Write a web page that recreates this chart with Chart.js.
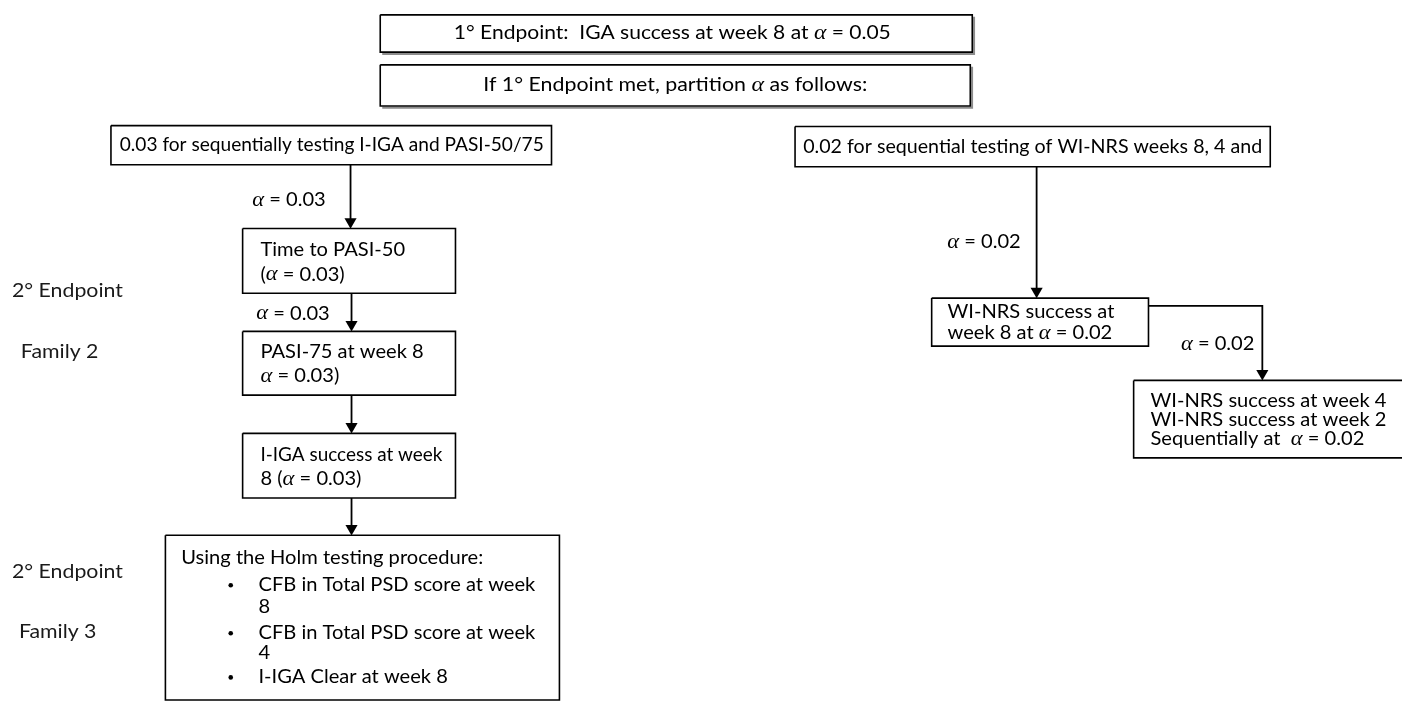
<!DOCTYPE html>
<html>
<head>
<meta charset="utf-8">
<script src="https://cdn.jsdelivr.net/npm/chart.js@4.4.1/dist/chart.umd.min.js"></script>
<style>
  html, body { margin: 0; padding: 0; background: #fff; }
  #wrap { width: 1402px; height: 704px; }
</style>
</head>
<body>
<div id="wrap"><canvas id="flow"></canvas></div>
<script>
/* ========================================================
   DATA
======================================================== */
const alphaPrimary = '0.05';
const alphaLeft    = '0.03';
const alphaRight   = '0.02';

const familyLabels = ['2° Endpoint', 'Family 2', '2° Endpoint', 'Family 3'];

const boxTexts = [
    [`1° Endpoint:  IGA success at week 8 at α = ${alphaPrimary}`],
    ['If 1° Endpoint met, partition α as follows:'],
    ['0.03 for sequentially testing I-IGA and PASI-50/75'],
    ['Time to PASI-50', `(α = ${alphaLeft})`],
    ['PASI-75 at week 8', `α = ${alphaLeft})`],
    ['I-IGA success at week', `8 (α = ${alphaLeft})`],
    ['Using the Holm testing procedure:', 'CFB in Total PSD score at week', '8',
     'CFB in Total PSD score at week', '4', 'I-IGA Clear at week 8'],
    ['0.02 for sequential testing of WI-NRS weeks 8, 4 and'],
    ['WI-NRS success at', `week 8 at α = ${alphaRight}`],
    ['WI-NRS success at week 4', 'WI-NRS success at week 2', `Sequentially at  α = ${alphaRight}`]
];

const arrowLabels = [`α = ${alphaLeft}`, `α = ${alphaLeft}`, `α = ${alphaRight}`, `α = ${alphaRight}`];

/* ========================================================
   LAYOUT (axis units, 0..1402 x 0..704)
======================================================== */
const boxRects = [
    [377, 8, 975, 46],
    [377, 59, 973, 101],
    [105, 121, 550, 161],
    [238, 226, 453, 292],
    [238, 331, 453, 396],
    [238, 435, 453, 501],
    [160, 539, 558, 707],
    [796, 122, 1276, 163],
    [934, 297, 1153, 346],
    [1138, 381, 1420, 460]
];
const boxShadow = [true, true, false, false, false, false, false, false, false, false];

// fit: target text width per line (null keeps the natural width)
const textLayout = [
    { align: 'center', x: 672, y: [27], fit: [437] },
    { align: 'center', x: 675, y: [80], fit: [384] },
    { align: 'center', x: 328, y: [141], fit: [424] },
    { align: 'left', x: 256, y: [248, 273] },
    { align: 'left', x: 256, y: [352, 377] },
    { align: 'left', x: 256, y: [457, 482], fit: [182, null] },
    { align: 'left', x: [176, 254, 254, 254, 254, 254], y: [562, 590, 612, 639, 659, 684],
      bullet: [false, true, false, true, false, true], bulletX: 226 },
    { align: 'center', x: 1036, y: [143], fit: [459] },
    { align: 'left', x: 950, y: [311, 333] },
    { align: 'left', x: 1155, y: [402, 421, 441] }
];

const familyPos = [[5, 289], [14, 352], [5, 576], [12, 637]];

const arrowPaths = [
    [[347, 161], [347, 226]],
    [[348, 292], [348, 331]],
    [[348, 396], [348, 435]],
    [[348, 501], [348, 539]],
    [[1040, 163], [1040, 297]],
    [[1153, 305], [1268, 305], [1268, 381]]
];
const arrowLabelPos = [[322, 197], [326, 313], [1024, 240], [1260, 344]];

const HEAD = 7;

/* ========================================================
   DATASETS
======================================================== */
const toPts = arr => arr.map(([x, y]) => ({ x, y }));

const datasets = [];

boxRects.forEach(([x1, y1, x2, y2]) => {
    datasets.push({
        type: 'line',
        data: toPts([[x1, y1], [x2, y1], [x2, y2], [x1, y2], [x1, y1]]),
        borderColor: '#000',
        borderWidth: 1.6,
        pointRadius: 0,
        fill: false,
        tension: 0,
        clip: false
    });
});

arrowPaths.forEach(path => {
    const pts = path.map(p => p.slice());
    pts[pts.length - 1][1] -= 4;
    datasets.push({
        type: 'line',
        data: toPts(pts),
        borderColor: '#000',
        borderWidth: 1.8,
        pointRadius: 0,
        fill: false,
        tension: 0,
        clip: false
    });
});

datasets.push({
    type: 'scatter',
    data: arrowPaths.map(path => {
        const tip = path[path.length - 1];
        return { x: tip[0], y: tip[1] - HEAD };
    }),
    pointStyle: 'triangle',
    rotation: 180,
    pointRadius: HEAD,
    backgroundColor: '#000',
    borderWidth: 0,
    clip: false
});

/* ========================================================
   TEXT
======================================================== */
const FAMILY = 'Lato, "Open Sans", sans-serif';
const SIZE = 18.5;
let hScale = 1;

function calibrate(ctx) {
    ctx.font = `${SIZE}px ${FAMILY}`;
    const w = ctx.measureText('Using the Holm testing procedure:').width;
    hScale = 302 / w;
}

function drawRich(ctx, str, px, py, align, size, fitW) {
    const parts = str.split(/(α)/).filter(s => s.length);
    const fontOf = p => p === 'α'
        ? `italic ${(size * 1.12).toFixed(2)}px "Liberation Serif", serif`
        : `${size.toFixed(2)}px ${FAMILY}`;
    const raw = parts.map(p => { ctx.font = fontOf(p); return ctx.measureText(p).width; });
    const rawTotal = raw.reduce((a, b) => a + b, 0);
    const hs = fitW ? fitW / rawTotal : hScale;
    const widths = raw.map(w => w * hs);
    const total = rawTotal * hs;
    let cx = align === 'center' ? px - total / 2 : align === 'right' ? px - total : px;
    parts.forEach((p, i) => {
        ctx.font = fontOf(p);
        ctx.save();
        ctx.translate(cx, py);
        ctx.scale(hs, 1);
        ctx.fillText(p, 0, 0);
        ctx.restore();
        cx += widths[i];
    });
}

const flowText = {
    id: 'flowText',
    beforeDatasetsDraw(chart) {
        const { ctx, scales: { x, y } } = chart;
        ctx.save();
        ctx.strokeStyle = '#8c8c8c';
        ctx.lineWidth = 2;
        boxRects.forEach(([x1, y1, x2, y2], i) => {
            if (!boxShadow[i]) return;
            const X1 = x.getPixelForValue(x1), X2 = x.getPixelForValue(x2);
            const Y1 = y.getPixelForValue(y1), Y2 = y.getPixelForValue(y2);
            ctx.beginPath();
            ctx.moveTo(X2 + 1.8, Y1 + 2);
            ctx.lineTo(X2 + 1.8, Y2 + 1.8);
            ctx.lineTo(X1 + 2, Y2 + 1.8);
            ctx.stroke();
        });
        ctx.restore();
    },
    afterDatasetsDraw(chart) {
        const { ctx, scales: { x, y } } = chart;
        calibrate(ctx);
        ctx.save();
        ctx.fillStyle = '#000';
        ctx.textBaseline = 'middle';

        boxTexts.forEach((lines, i) => {
            const lay = textLayout[i];
            lines.forEach((line, j) => {
                const lx = Array.isArray(lay.x) ? lay.x[j] : lay.x;
                const py = y.getPixelForValue(lay.y[j]);
                const fitW = lay.fit ? lay.fit[j] : null;
                drawRich(ctx, line, x.getPixelForValue(lx), py, lay.align, SIZE, fitW);
                if (lay.bullet && lay.bullet[j]) {
                    ctx.beginPath();
                    ctx.arc(x.getPixelForValue(lay.bulletX), py, 2.3, 0, Math.PI * 2);
                    ctx.fill();
                }
            });
        });

        arrowLabels.forEach((lbl, i) => {
            const [lx, ly] = arrowLabelPos[i];
            drawRich(ctx, lbl, x.getPixelForValue(lx), y.getPixelForValue(ly), 'right', SIZE);
        });

        ctx.fillStyle = '#1a1a1a';
        familyLabels.forEach((lbl, i) => {
            const [lx, ly] = familyPos[i];
            drawRich(ctx, lbl, x.getPixelForValue(lx), y.getPixelForValue(ly), 'left', SIZE * 1.06);
        });
        ctx.restore();
    }
};

/* ========================================================
   CHART
======================================================== */
new Chart(document.getElementById('flow'), {
    type: 'scatter',
    data: { datasets },
    options: {
        responsive: true,
        maintainAspectRatio: false,
        animation: false,
        events: [],
        layout: { padding: 0 },
        scales: {
            x: { type: 'linear', min: 0, max: 1402, display: false },
            y: { type: 'linear', min: 0, max: 704, reverse: true, display: false }
        },
        plugins: { legend: { display: false }, tooltip: { enabled: false } }
    },
    plugins: [flowText]
});
</script>
</body>
</html>
